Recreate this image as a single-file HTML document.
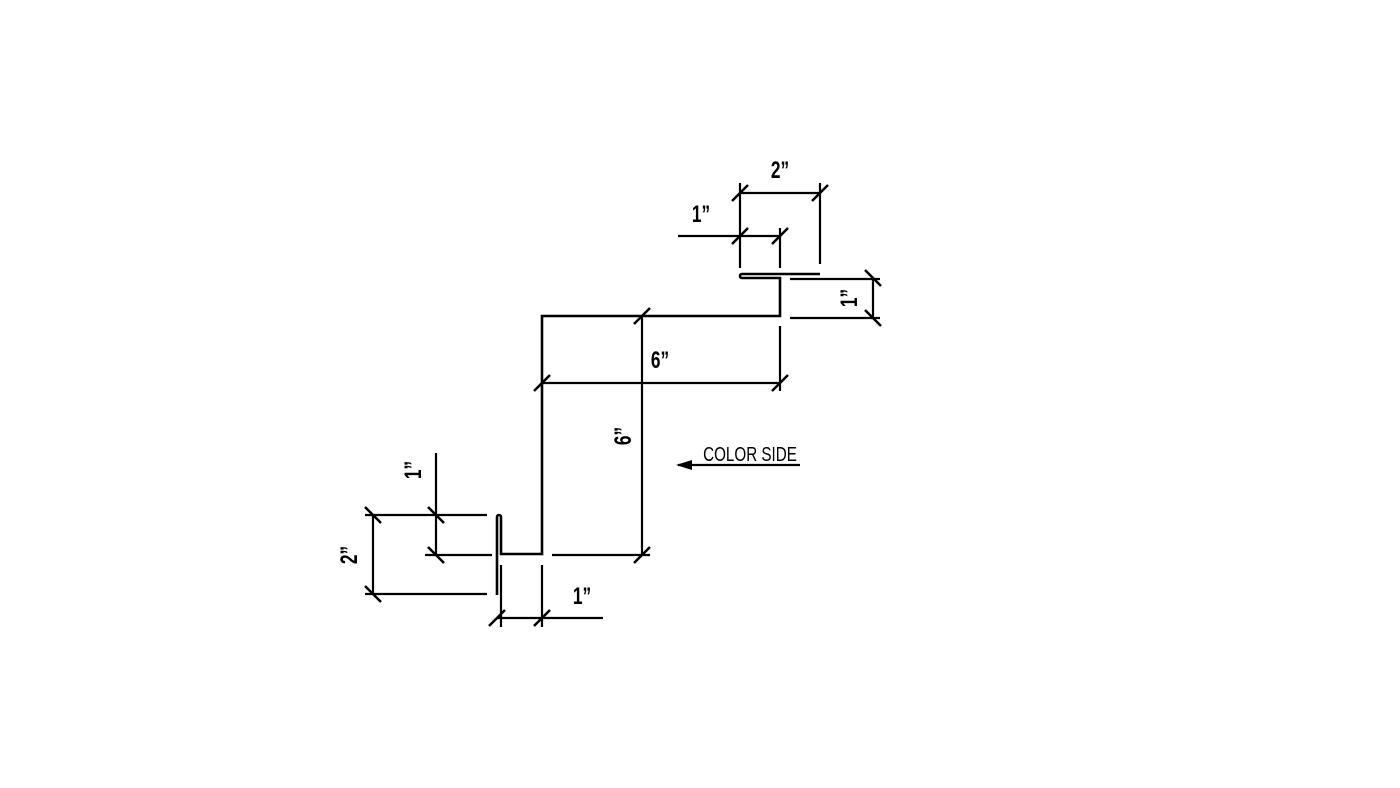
<!DOCTYPE html>
<html><head><style>html,body{margin:0;padding:0;background:#fff}svg{display:block}</style></head><body>
<svg width="1400" height="788" viewBox="0 0 1400 788" xmlns="http://www.w3.org/2000/svg">
<g stroke="#000" fill="none" stroke-width="2.2">
<path d="M820 274 L742 274 A2 2 0 0 0 742 278 L780 278 L780 316 L542 316 L542 554 L501 554 L501 517 A2 2 0 0 0 497 517 L497 595" stroke-width="2.6"/>
<path d="M740 183 V268 M820 183 V264 M740 193 H820"/>
<path d="M678 236 H780 M780 228 V268"/>
<path d="M790 279 H880 M790 318 H880 M873 279 V318"/>
<path d="M542 383 H780 M780 326 V391"/>
<path d="M642 316 V555 M552 555 H650"/>
<path d="M436 453 V555 M365 515 H487 M425 555 H492"/>
<path d="M373 515 V594 M365 594 H487"/>
<path d="M497 618 H603 M501 565 V627 M542 565 V627"/>
<path stroke-width="2.5" d="M732 201 L748 185 M812 201 L828 185 M732 244 L748 228 M772 244 L788 228 M865 270 L881 286 M865 310 L881 326 M534 391 L550 375 M772 391 L788 375 M634 324 L650 308 M634 563 L650 547 M365 507 L381 523 M428 507 L444 523 M428 547 L444 563 M365 586 L381 602 M489 626 L505 610 M534 626 L550 610"/>
<path d="M678 465 H800"/>
</g>
<path d="M676 465 L692 460 L692 470 Z" fill="#000"/>
<g font-family="Liberation Sans, sans-serif" font-size="24" font-weight="bold" fill="#000" text-anchor="middle">
<text x="780" y="178" transform="translate(780 0) scale(0.72 1) translate(-780 0)">2”</text>
<text x="701" y="222" transform="translate(701 0) scale(0.72 1) translate(-701 0)">1”</text>
<text x="660" y="368" transform="translate(660 0) scale(0.72 1) translate(-660 0)">6”</text>
<text x="582" y="604" transform="translate(582 0) scale(0.72 1) translate(-582 0)">1”</text>
<text transform="translate(857 298) rotate(-90) scale(0.72 1)" x="0" y="0">1”</text>
<text transform="translate(631 436) rotate(-90) scale(0.72 1)" x="0" y="0">6”</text>
<text transform="translate(421 470) rotate(-90) scale(0.72 1)" x="0" y="0">1”</text>
<text transform="translate(357 555) rotate(-90) scale(0.72 1)" x="0" y="0">2”</text>
<text x="750" y="461" font-size="20" font-weight="normal" transform="translate(750 0) scale(0.76 1) translate(-750 0)">COLOR SIDE</text>
</g>
</svg>
</body></html>
